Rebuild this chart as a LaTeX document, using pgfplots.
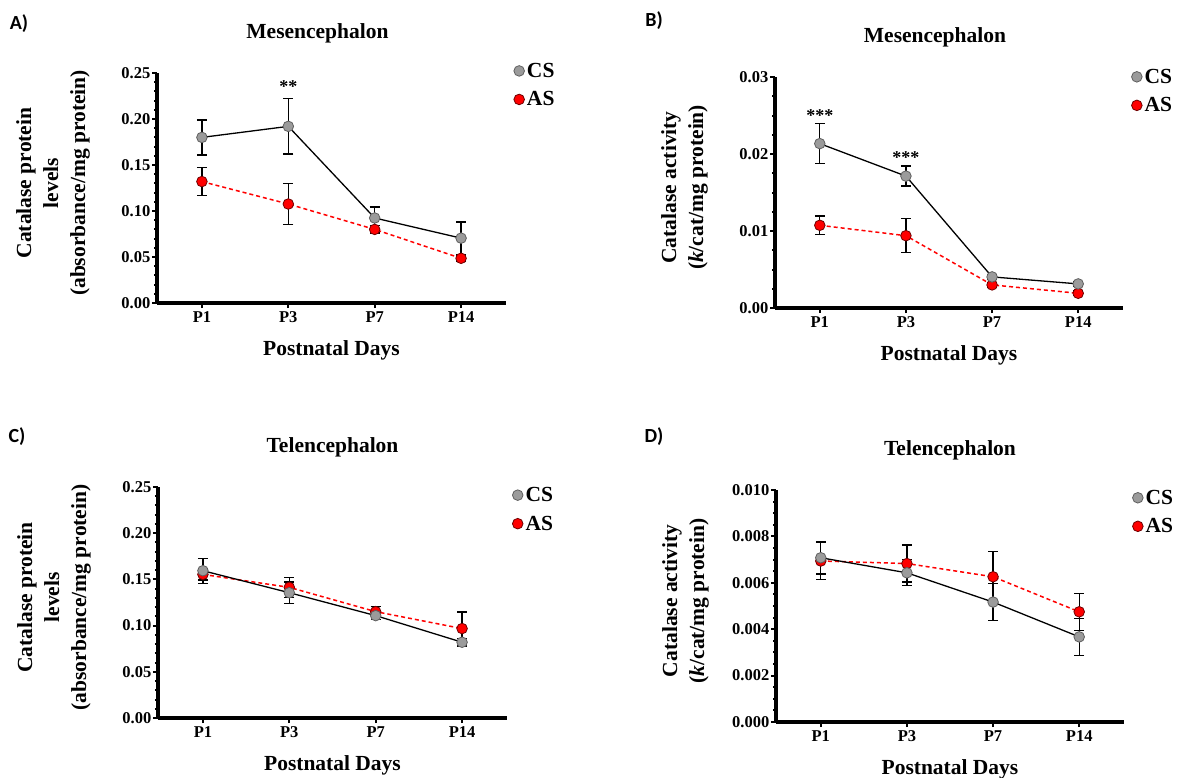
\documentclass[border=0pt]{standalone}
\usepackage{fontspec}
\setmainfont{Liberation Serif}
\newfontfamily\panelfont{Carlito}
\usepackage{pgfplots}
\pgfplotsset{compat=1.18}

\definecolor{csgray}{RGB}{155,155,155}
\definecolor{csedge}{RGB}{95,95,95}
\definecolor{asred}{RGB}{255,0,0}
\definecolor{asedge}{RGB}{110,0,0}

\newcommand{\fs}[2]{\fontsize{#1}{#2}\selectfont\bfseries}

\pgfplotsset{
  prism/.style={
    scale only axis, width=349pt, height=230pt,
    axis lines=left, axis line style={-, line width=3.3pt},
    xmin=-0.52, xmax=3.52, xtick={0,1,2,3}, xticklabels={P1,P3,P7,P14},
    tick align=outside, major tick length=5pt, minor tick length=3pt,
    every tick/.style={black, line width=2pt},
    scaled y ticks=false,
    tick label style={font=\fs{16.5}{20}, inner sep=1.5pt},
    xticklabel style={yshift=-2pt},
    yticklabel style={/pgf/number format/.cd, fixed, fixed zerofill, assume math mode=true},
    xlabel={Postnatal Days},
    xlabel style={font=\fs{21.5}{27}, at={(axis description cs:0.5,0)}, anchor=base, yshift=-52pt},
    ylabel style={font=\fs{21.5}{27}, align=center, at={(axis description cs:-0.192,0.522)}, anchor=south, inner sep=0pt},
    title style={font=\fs{21.5}{27}, at={(axis description cs:0.5,1)}, anchor=base, yshift=28.5pt},
    clip=false, reverse legend,
    legend cell align=left,
    legend style={draw=none, fill=none, inner sep=0pt, row sep=11.8pt, column sep=2pt, font=\fs{21.5}{27}, nodes={inner sep=0.5pt}},
    legend image code/.code={\draw[only marks] plot coordinates {(5pt,0pt)};},
  },
  cs/.style={black, line width=1.3pt, mark=*, mark size=5.3pt,
    mark options={solid, fill=csgray, draw=csedge, line width=0.8pt},
    error bars/.cd, y dir=both, y explicit,
    error bar style={black, solid, line width=1.3pt},
    error mark options={rotate=90, mark size=5pt, black, solid, line width=1.3pt}},
  as/.style={asred, dash pattern=on 4pt off 3pt, line width=1.5pt, mark=*, mark size=5.3pt,
    mark options={solid, fill=asred, draw=asedge, line width=0.8pt},
    error bars/.cd, y dir=both, y explicit,
    error bar style={black, solid, line width=1.3pt},
    error mark options={rotate=90, mark size=5pt, black, solid, line width=1.3pt}},
}

\begin{document}
\begin{tikzpicture}
\path[use as bounding box] (0,0) rectangle (1179pt,-778pt);

% A) Mesencephalon, protein levels
\begin{axis}[prism, at={(157pt,-303pt)}, anchor=south west, height=230pt,
  ymin=0, ymax=0.25, ytick={0,0.05,0.1,0.15,0.2,0.25}, minor y tick num=4,
  yticklabel style={/pgf/number format/precision=2},
  title={\hspace*{-28pt}Mesencephalon},
  ylabel={Catalase protein\\levels\\(absorbance/mg protein)},
  legend style={at={(axis description cs:1.022,0.947)}, anchor=west}]
\addplot[as] coordinates {(0,0.132) +- (0,0.0155) (1,0.1076) +- (0,0.0225) (2,0.080) +- (0,0.004) (3,0.0486) +- (0,0.003)};
\addlegendentry{AS}
\addplot[cs] coordinates {(0,0.180) +- (0,0.019) (1,0.192) +- (0,0.030) (2,0.0924) +- (0,0.012) (3,0.0705) +- (0,0.0175)};
\addlegendentry{CS}
\node[font=\fs{18}{20}, anchor=base] at (axis cs:1,0.2286) {**};
\end{axis}

% B) Mesencephalon, activity
\begin{axis}[prism, at={(775pt,-308pt)}, anchor=south west, width=348pt, height=231pt,
  ymin=0, ymax=0.03, ytick={0,0.01,0.02,0.03}, minor y tick num=3,
  yticklabel style={/pgf/number format/precision=2},
  title={\hspace*{-28pt}Mesencephalon},
  ylabel={Catalase activity\\(\textit{k}/cat/mg protein)},
  legend style={at={(axis description cs:1.024,0.939)}, anchor=west}]
\addplot[as] coordinates {(0,0.01074) +- (0,0.0012) (1,0.00939) +- (0,0.0022) (2,0.0030) +- (0,0.0003) (3,0.00191) +- (0,0.0003)};
\addlegendentry{AS}
\addplot[cs] coordinates {(0,0.02135) +- (0,0.0026) (1,0.01713) +- (0,0.0013) (2,0.00404) +- (0,0.0003) (3,0.00313) +- (0,0.0003)};
\addlegendentry{CS}
\node[font=\fs{18}{20}, anchor=base] at (axis cs:0,0.02416) {***};
\node[font=\fs{18}{20}, anchor=base] at (axis cs:1,0.01874) {***};
\end{axis}

% C) Telencephalon, protein levels
\begin{axis}[prism, at={(158pt,-718pt)}, anchor=south west, height=231pt,
  ymin=0, ymax=0.25, ytick={0,0.05,0.1,0.15,0.2,0.25}, minor y tick num=4,
  yticklabel style={/pgf/number format/precision=2},
  title={Telencephalon},
  ylabel={Catalase protein\\levels\\(absorbance/mg protein)},
  legend style={at={(axis description cs:1.015,0.903)}, anchor=west}]
\addplot[as] coordinates {(0,0.1554) +- (0,0.006) (1,0.1414) +- (0,0.011) (2,0.1151) +- (0,0.0055) (3,0.0968) +- (0,0.018)};
\addlegendentry{AS}
\addplot[cs] coordinates {(0,0.1594) +- (0,0.0135) (1,0.1356) +- (0,0.0115) (2,0.1108) +- (0,0.004) (3,0.082) +- (0,0.004)};
\addlegendentry{CS}
\end{axis}

% D) Telencephalon, activity
\begin{axis}[prism, at={(776pt,-722pt)}, anchor=south west, width=348pt, height=232pt,
  ymin=0, ymax=0.01, ytick={0,0.002,0.004,0.006,0.008,0.01}, minor y tick num=3,
  yticklabel style={/pgf/number format/precision=3},
  title={Telencephalon},
  ylabel={Catalase activity\\(\textit{k}/cat/mg protein)},
  legend style={at={(axis description cs:1.024,0.905)}, anchor=west}]
\addplot[as] coordinates {(0,0.00694) +- (0,0.0008) (1,0.00683) +- (0,0.0008) (2,0.00626) +- (0,0.0011) (3,0.00475) +- (0,0.0008)};
\addlegendentry{AS}
\addplot[cs] coordinates {(0,0.00708) +- (0,0.0007) (1,0.00643) +- (0,0.00056) (2,0.00517) +- (0,0.0008) (3,0.00367) +- (0,0.0008)};
\addlegendentry{CS}
\end{axis}

% panel letters
\node[font=\panelfont\fontsize{20}{24}\selectfont\bfseries] at (19pt,-23.5pt) {A)};
\node[font=\panelfont\fontsize{20}{24}\selectfont\bfseries] at (654pt,-21pt) {B)};
\node[font=\panelfont\fontsize{20}{24}\selectfont\bfseries] at (17pt,-437pt) {C)};
\node[font=\panelfont\fontsize{20}{24}\selectfont\bfseries] at (654pt,-437pt) {D)};
\end{tikzpicture}
\end{document}
